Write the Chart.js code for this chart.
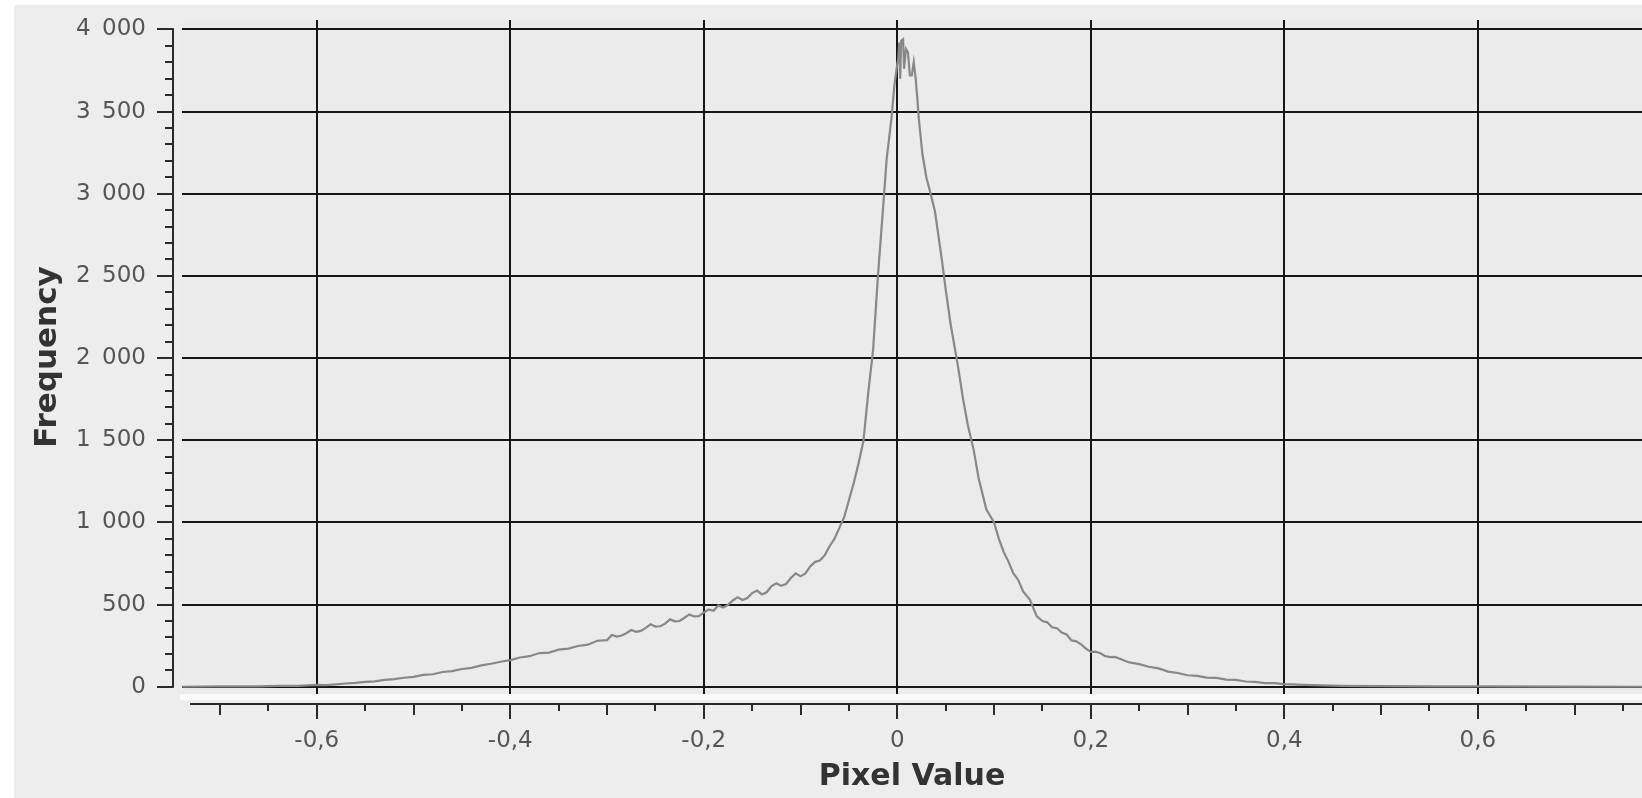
<!DOCTYPE html>
<html>
<head>
<meta charset="utf-8">
<script src="https://cdn.jsdelivr.net/npm/chart.js@4.4.1/dist/chart.umd.min.js"></script>
<style>
  html, body { margin: 0; padding: 0; background: #fff; }
  #histChart { display: block; }
</style>
</head>
<body>
<canvas id="histChart" width="1642" height="798"></canvas>
<script>
// Histogram of pixel values
var pixelValues = [
  -0.739, -0.70, -0.66, -0.64, -0.62, -0.61, -0.60, -0.59, -0.58, -0.57,
  -0.56, -0.55, -0.54, -0.53, -0.52, -0.51, -0.50, -0.49, -0.48, -0.47,
  -0.46, -0.45, -0.44, -0.43, -0.42, -0.41, -0.40, -0.39, -0.38, -0.37,
  -0.36, -0.35, -0.34, -0.33, -0.32, -0.31, -0.30, -0.295, -0.29, -0.285,
  -0.28, -0.275, -0.27, -0.265, -0.26, -0.255, -0.25, -0.245, -0.24, -0.235,
  -0.23, -0.225, -0.22, -0.215, -0.21, -0.205, -0.20, -0.195, -0.19, -0.185,
  -0.18, -0.175, -0.17, -0.165, -0.16, -0.155, -0.15, -0.145, -0.14, -0.135,
  -0.13, -0.125, -0.12, -0.115, -0.11, -0.105, -0.10, -0.095, -0.09, -0.085,
  -0.08, -0.075, -0.07, -0.065, -0.06, -0.055, -0.05, -0.045, -0.04, -0.035,
  -0.03, -0.025, -0.02, -0.015, -0.011, -0.006, -0.003, 0.000, 0.001, 0.002,
  0.003, 0.004, 0.006, 0.007, 0.009, 0.011, 0.013, 0.015, 0.017, 0.019,
  0.021, 0.022, 0.026, 0.030, 0.034, 0.039, 0.046, 0.050, 0.055, 0.063,
  0.068, 0.073, 0.079, 0.084, 0.092, 0.100, 0.105, 0.110, 0.115, 0.120,
  0.125, 0.130, 0.137, 0.144, 0.15, 0.155, 0.16, 0.165, 0.17, 0.175,
  0.18, 0.185, 0.19, 0.195, 0.20, 0.205, 0.21, 0.215, 0.22, 0.225,
  0.23, 0.235, 0.24, 0.25, 0.26, 0.27, 0.28, 0.29, 0.30, 0.31,
  0.32, 0.33, 0.34, 0.35, 0.36, 0.37, 0.38, 0.39, 0.40, 0.42,
  0.44, 0.46, 0.50, 0.55, 0.60, 0.70, 0.77
];
var frequency = [
  0, 2, 3, 5, 6, 9, 11, 10, 15, 20,
  24, 30, 33, 42, 46, 55, 60, 72, 76, 90,
  95, 108, 115, 130, 140, 152, 162, 178, 186, 205,
  208, 226, 232, 248, 256, 280, 284, 315, 305, 312,
  326, 345, 334, 340, 358, 380, 366, 368, 384, 410,
  398, 400, 420, 440, 428, 430, 452, 470, 462, 495,
  482, 498, 525, 545, 528, 540, 570, 585, 562, 575,
  612, 630, 614, 625, 662, 690, 672, 690, 732, 760,
  768, 800, 855, 900, 965, 1030, 1135, 1240, 1360, 1495,
  1790, 2050, 2500, 2890, 3210, 3460, 3660, 3790, 3820, 3920,
  3700, 3930, 3940, 3760, 3880, 3860, 3720, 3720, 3800, 3700,
  3560, 3470, 3240, 3100, 3010, 2890, 2600, 2420, 2210, 1940,
  1750, 1590, 1440, 1270, 1080, 1000, 900, 820, 760, 690,
  650, 580, 530, 430, 400, 392, 362, 356, 330, 318,
  282, 276, 258, 232, 212, 214, 204, 186, 180, 182,
  170, 158, 148, 138, 122, 112, 92, 84, 70, 66,
  56, 54, 44, 42, 32, 30, 22, 22, 16, 12,
  8, 6, 4, 3, 2, 1, 0
];
var xTicks = [-0.6, -0.4, -0.2, 0, 0.2, 0.4, 0.6];
var yTicks = [0, 500, 1000, 1500, 2000, 2500, 3000, 3500, 4000];

function fmtX(v) {
  return String(Math.round(v * 10) / 10).replace('.', ',');
}
function fmtY(v) {
  // thousands separated by a wide space, like the original
  if (v >= 1000) return Math.floor(v / 1000) + '\u2002' + String(v % 1000).padStart(3, '0');
  return String(v);
}

// backgrounds + the detached axis lines with their minor ticks
var axesPlugin = {
  id: 'offsetAxes',
  beforeDraw: function(chart) {
    var ctx = chart.ctx, a = chart.chartArea;
    ctx.save();
    ctx.fillStyle = '#ffffff';
    ctx.fillRect(0, 0, chart.width, chart.height);
    ctx.fillStyle = '#ededed';
    ctx.fillRect(14, 5, chart.width - 14, chart.height - 5);
    ctx.fillStyle = '#ebebeb';
    ctx.fillRect(a.left, a.top, a.right - a.left, a.bottom - a.top);
    ctx.fillStyle = '#fafafa';
    ctx.fillRect(a.left - 2, a.bottom, a.right - a.left + 2, 6);
    ctx.restore();
  },
  afterDraw: function(chart) {
    var ctx = chart.ctx, x = chart.scales.x, y = chart.scales.y, a = chart.chartArea;
    ctx.save();
    ctx.strokeStyle = '#2a2a2a';
    ctx.lineWidth = 2;
    ctx.beginPath();
    // y axis
    var ax = 173;
    ctx.moveTo(ax, y.getPixelForValue(0) + 1);
    ctx.lineTo(ax, y.getPixelForValue(4000) - 1);
    for (var v = 0; v <= 4000; v += 100) {
      var py = Math.round(y.getPixelForValue(v));
      var len = v % 500 === 0 ? 16 : 8;
      ctx.moveTo(ax - len, py);
      ctx.lineTo(ax, py);
    }
    // x axis
    var ay = 704;
    ctx.moveTo(x.getPixelForValue(-0.731), ay);
    ctx.lineTo(a.right, ay);
    for (var i = -14; i <= 15; i++) {
      var px = Math.round(x.getPixelForValue(i * 0.05));
      var l = i % 4 === 0 ? 15 : (i % 2 === 0 ? 11 : 7);
      ctx.moveTo(px, ay);
      ctx.lineTo(px, ay + l);
    }
    ctx.stroke();
    ctx.restore();
  }
};

var ctx = document.getElementById('histChart').getContext('2d');
var histChart = new Chart(ctx, {
  type: 'line',
  data: {
    datasets: [{
      data: pixelValues.map(function(v, i) { return {x: v, y: frequency[i]}; }),
      borderColor: '#888888',
      borderWidth: 2.2,
      pointRadius: 0,
      tension: 0,
      fill: false
    }]
  },
  options: {
    responsive: false,
    animation: false,
    layout: { padding: { top: 20, right: 0, bottom: 0, left: 0 } },
    plugins: { legend: { display: false }, tooltip: { enabled: false } },
    scales: {
      x: {
        type: 'linear',
        min: -0.7393,
        max: 0.7697,
        grid: { color: '#151515', lineWidth: 2, drawTicks: false },
        border: { display: false },
        afterBuildTicks: function(s) { s.ticks = xTicks.map(function(v) { return {value: v}; }); },
        afterFit: function(s) { s.height = 104; },
        ticks: {
          padding: 33, color: '#555', maxRotation: 0, autoSkip: false,
          font: { family: 'DejaVu Sans', size: 23 },
          callback: function(v) { return fmtX(v); }
        },
        title: {
          display: true, text: 'Pixel Value', color: '#333',
          font: { family: 'DejaVu Sans', size: 30, weight: 'bold' },
          padding: { top: 0, bottom: 3 }
        }
      },
      y: {
        min: -44,
        max: 4057,
        // invisible tick marks keep the labels away from the plot without adding top padding
        grid: { color: '#151515', lineWidth: 2, drawTicks: true, tickLength: 36, tickColor: 'rgba(0,0,0,0)' },
        border: { display: false },
        afterBuildTicks: function(s) { s.ticks = yTicks.map(function(v) { return {value: v}; }); },
        afterFit: function(s) { s.width = 182; },
        ticks: {
          padding: 0, color: '#555', autoSkip: false,
          font: { family: 'DejaVu Sans', size: 23 },
          callback: function(v) { return fmtY(v); }
        },
        title: {
          display: true, text: 'Frequency', color: '#333',
          font: { family: 'DejaVu Sans', size: 31, weight: 'bold' },
          padding: { top: 29, bottom: 0 }
        }
      }
    }
  },
  plugins: [axesPlugin]
});
</script>
</body>
</html>
